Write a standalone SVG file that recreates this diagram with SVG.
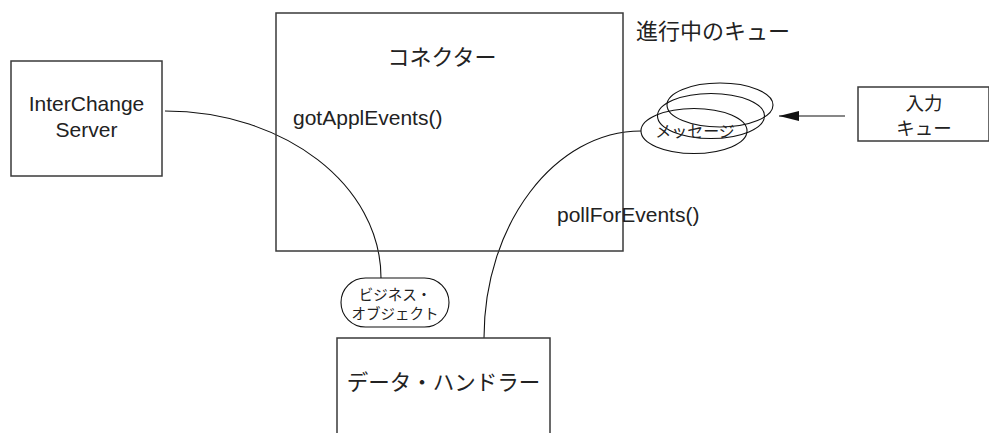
<svg xmlns="http://www.w3.org/2000/svg" width="989" height="433" viewBox="0 0 989 433">
<style>
.box{fill:none;stroke:#3a3a3a;stroke-width:1.5}
.ln{fill:none;stroke:#111;stroke-width:1.1}
.lat{font-family:"Liberation Sans",Arial,"Noto Sans CJK JP",sans-serif;font-size:21px;fill:#222}
.jp{font-family:"Noto Sans CJK JP","Liberation Sans",sans-serif;fill:#222}
</style>
<defs>
<marker id="ah" viewBox="0 0 20 10" refX="20" refY="5" markerWidth="20" markerHeight="10" markerUnits="userSpaceOnUse" orient="auto">
<path d="M0,0 L20,5 L0,10 Z" fill="#111"/>
</marker>
</defs>
<rect width="989" height="433" fill="#fff"/>
<g id="connectors">
<path class="ln" d="M165,111 C284,111 381,185 381,278"/>
<path class="ln" d="M484,338 C484,224 555,131 641,131"/>
<line class="ln" x1="845" y1="116" x2="779" y2="116" marker-end="url(#ah)"/>
</g>
<g id="connector">
<rect class="box" x="276" y="13" width="347" height="238"/>
<text class="jp" x="442" y="65" font-size="22" text-anchor="middle">コネクター</text>
<text class="lat" x="293" y="125">gotApplEvents()</text>
<text class="lat" x="557" y="222">pollForEvents()</text>
</g>
<g id="interchange-server">
<rect class="box" x="11" y="61" width="151" height="115"/>
<text class="lat" x="86.5" y="111" text-anchor="middle">InterChange</text>
<text class="lat" x="86.5" y="137" text-anchor="middle">Server</text>
</g>
<g id="queue-label">
<text class="jp" x="636" y="39" font-size="22">進行中のキュー</text>
</g>
<g id="queues">
<ellipse class="ln" cx="720" cy="105" rx="53" ry="22"/>
<ellipse class="ln" cx="711" cy="116" rx="53.5" ry="22.5"/>
<ellipse class="ln" cx="694" cy="131" rx="53" ry="22.5"/>
<text class="jp" x="695" y="137" font-size="16" text-anchor="middle">メッセージ</text>
</g>
<g id="input-queue">
<rect class="box" x="858" y="87" width="131" height="54"/>
<text class="jp" x="924" y="110" font-size="18.5" text-anchor="middle">入力</text>
<text class="jp" x="924" y="135" font-size="18.5" text-anchor="middle">キュー</text>
</g>
<g id="business-object">
<rect class="ln" x="341" y="278" width="108" height="49" rx="24.5" ry="24.5"/>
<text class="jp" x="395" y="300" font-size="14.5" text-anchor="middle">ビジネス・</text>
<text class="jp" x="395" y="319" font-size="14.5" text-anchor="middle">オブジェクト</text>
</g>
<g id="data-handler">
<path class="box" d="M337,433 L337,338 L550,338 L550,433"/>
<text class="jp" x="443.5" y="390" font-size="21.5" text-anchor="middle">データ・ハンドラー</text>
</g>
</svg>
